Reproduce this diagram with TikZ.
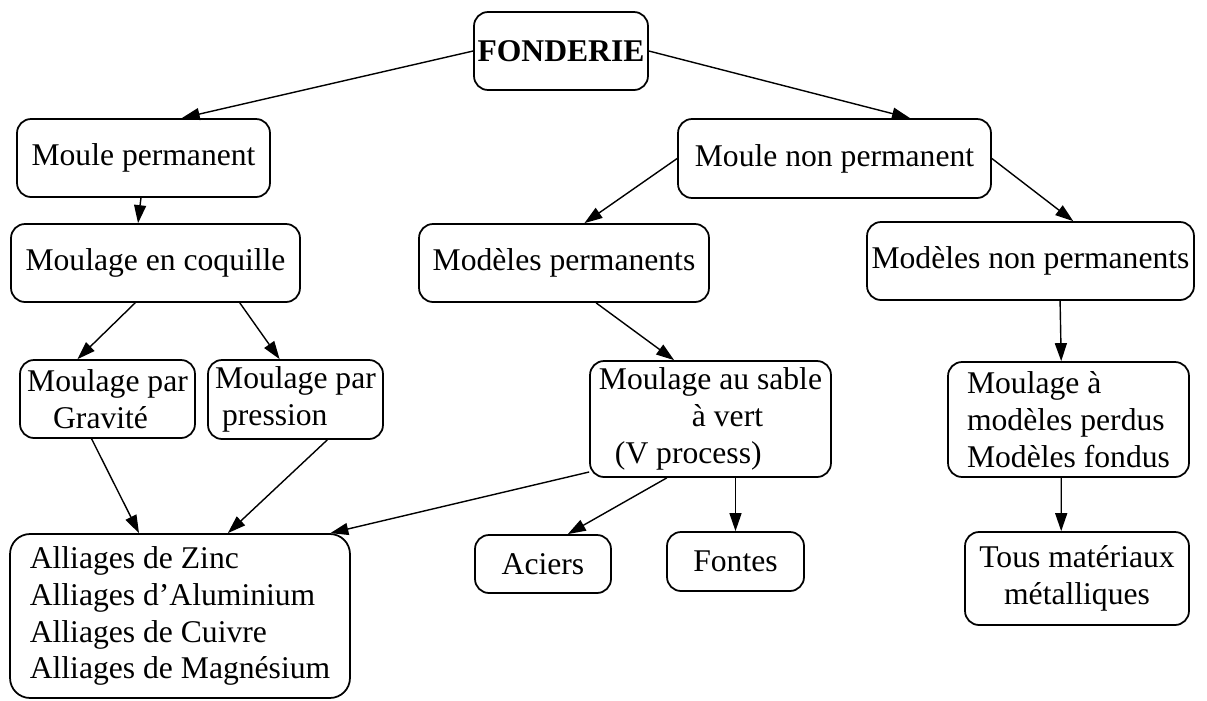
\documentclass[tikz,border=0pt]{standalone}
\usepackage{fontspec}
\setmainfont{Liberation Serif}
\usetikzlibrary{calc, arrows.meta}

\begin{document}
\begin{tikzpicture}[x=0.02cm, y=-0.02cm,
  box/.style={draw, rounded corners=0.28cm, line width=1pt, inner sep=0pt, font=\fontsize{18}{21}\selectfont},
  arr/.style={-{Triangle[length=0.36cm, width=0.24cm]}, line width=0.8pt}]
  \useasboundingbox (0,0) rectangle (1207,700);
  \path (561,51) node[box, minimum width=3.48cm, minimum height=1.56cm] (fond) {\textbf{FONDERIE}}
  (143.5,158) node[box, minimum width=5.06cm, minimum height=1.56cm] (mp) {Moule permanent}
  (834.5,158.5) node[box, minimum width=6.26cm, minimum height=1.58cm] (mnp) {Moule non permanent}
  (155.5,263) node[box, minimum width=5.78cm, minimum height=1.56cm] (coq) {Moulage en coquille}
  (564,263) node[box, minimum width=5.8cm, minimum height=1.56cm] (modp) {Modèles permanents}
  (1030.5,261) node[box, minimum width=6.54cm, minimum height=1.56cm] (modnp) {Modèles non permanents};
  \path (107.5,399) node[box, align=left, minimum width=3.5cm, minimum height=1.56cm] (grav) {Moulage par\\\hspace*{0.52cm}Gravité}
  (295.5,399.5) node[box, align=left, minimum width=3.5cm, minimum height=1.58cm] (pres) {Moulage par\\\hspace*{0.14cm}pression}
  (710.5,419) node[box, align=left, minimum width=4.82cm, minimum height=2.32cm] (sable) {Moulage au sable\\\hspace*{1.86cm}à vert\\\hspace*{0.32cm}(V process)}
  (1068.5,419.5) node[box, align=left, minimum width=4.82cm, minimum height=2.3cm] (perdus) {Moulage à\\modèles perdus\\Modèles fondus};
  \path (180,616) node[box, rounded corners=0.4cm, align=left, minimum width=6.8cm, minimum height=3.28cm] (alli) {Alliages de Zinc\\Alliages d’Aluminium\\Alliages de Cuivre\\Alliages de Magnésium}
  (543,564) node[box, minimum width=2.72cm, minimum height=1.16cm] (aci) {Aciers}
  (735.5,561.5) node[box, minimum width=2.74cm, minimum height=1.18cm] (fon) {Fontes}
  (1077,578.5) node[box, align=center, minimum width=4.48cm, minimum height=1.86cm] (tous) {Tous matériaux\\métalliques};
  % top levels
  \draw[arr] (fond.west) -- ($(mp.north west)!0.65!(mp.north east)$);
  \draw[arr] (fond.east) -- ($(mnp.north west)!0.74!(mnp.north east)$);
  \draw[arr] ($(mp.south west)!0.49!(mp.south east)$) -- ($(coq.north west)!0.44!(coq.north east)$);
  \draw[arr] (mnp.west) -- ($(modp.north west)!0.57!(modp.north east)$);
  \draw[arr] (mnp.east) -- ($(modnp.north west)!0.63!(modnp.north east)$);
  \draw[arr] ($(modp.south west)!0.61!(modp.south east)$) -- ($(sable.north west)!0.35!(sable.north east)$);
  \draw[arr] ($(modnp.south west)!0.59!(modnp.south east)$) -- ($(perdus.north west)!0.47!(perdus.north east)$);
  % coquille
  \draw[arr] ($(coq.south west)!0.43!(coq.south east)$) -- ($(grav.north west)!0.33!(grav.north east)$);
  \draw[arr] ($(coq.south west)!0.79!(coq.south east)$) -- ($(pres.north west)!0.41!(pres.north east)$);
  \draw[arr] ($(grav.south west)!0.41!(grav.south east)$) -- ($(alli.north west)!0.38!(alli.north east)$);
  \draw[arr] ($(pres.south west)!0.68!(pres.south east)$) -- ($(alli.north west)!0.64!(alli.north east)$);
  % sable
  \draw[arr] ($(sable.south west)!0.05!(sable.north west)$) -- ($(alli.north west)!0.94!(alli.north east)$);
  \draw[arr] ($(sable.south west)!0.32!(sable.south east)$) -- ($(aci.north west)!0.68!(aci.north east)$);
  \draw[arr] (sable.south -| fon.north) -- (fon.north);
  \draw[arr] ($(perdus.south west)!0.47!(perdus.south east)$) -- ($(tous.north west)!0.43!(tous.north east)$);
\end{tikzpicture}
\end{document}
